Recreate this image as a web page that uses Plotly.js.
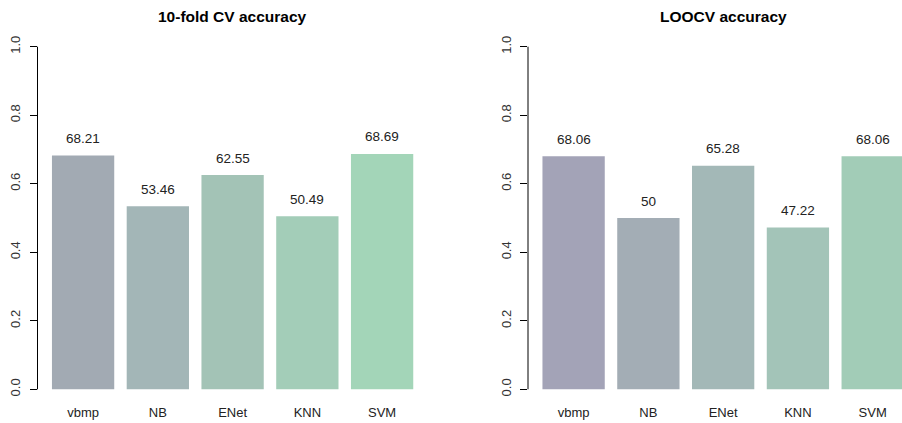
<!DOCTYPE html>
<html>
<head>
<meta charset="utf-8">
<script src="https://cdn.plot.ly/plotly-3.0.1.min.js"></script>
<style>html,body{margin:0;padding:0;background:#fff;}#chart{width:902px;height:423px;}</style>
</head>
<body>
<div id="chart"></div>
<script>
const methods = ["vbmp", "NB", "ENet", "KNN", "SVM"];
const cv10 = [68.21, 53.46, 62.55, 50.49, 68.69];
const loocv = [68.06, 50, 65.28, 47.22, 68.06];
const cv10Labels = ["68.21", "53.46", "62.55", "50.49", "68.69"];
const loocvLabels = ["68.06", "50", "65.28", "47.22", "68.06"];
const colorsLeft = ["#a2aab3", "#a3b6b7", "#a3c3b6", "#a3cdb8", "#a3d5b8"];
const colorsRight = ["#a3a3b7", "#a3adb5", "#a3b8b7", "#a3c4b8", "#a2ccb7"];
const yTicks = [0, 0.2, 0.4, 0.6, 0.8, 1.0];
const yTickText = ["0.0", "0.2", "0.4", "0.6", "0.8", "1.0"];

const font = "Liberation Sans, Arial, sans-serif";
const toFrac = v => v.map(d => d / 100);

const traces = [
  {type: "bar", x: methods, y: toFrac(cv10), marker: {color: colorsLeft, line: {width: 0}},
   xaxis: "x", yaxis: "y", hoverinfo: "none", showlegend: false},
  {type: "bar", x: methods, y: toFrac(loocv), marker: {color: colorsRight, line: {width: 0}},
   xaxis: "x2", yaxis: "y2", hoverinfo: "none", showlegend: false}
];

function valueAnns(vals, labels, xr, yr) {
  return vals.map((v, i) => ({
    x: methods[i], y: v / 100, xref: xr, yref: yr, text: labels[i],
    showarrow: false, yanchor: "middle", xanchor: "center", yshift: 17,
    font: {family: font, size: 13.5, color: "#222"}
  }));
}

const yaxisBase = {
  range: [-0.04, 1.04], tickvals: yTicks, ticktext: yTickText, tickangle: -90,
  ticks: "outside", ticklen: 7, tickcolor: "#000", tickwidth: 1,
  showgrid: false, zeroline: false, showline: false, fixedrange: true,
  ticklabelstandoff: 4,
  tickfont: {family: font, size: 13, color: "#333"}
};
const xaxisBase = {
  type: "category", showgrid: false, zeroline: false, showline: false, ticks: "",
  tickfont: {family: font, size: 13, color: "#222"}, fixedrange: true
};

const layout = {
  width: 902, height: 423,
  margin: {l: 0, r: 0, t: 33, b: 20, pad: 0},
  paper_bgcolor: "#fff", plot_bgcolor: "#fff",
  bargap: 0.1667,
  xaxis: Object.assign({}, xaxisBase, {domain: [37.5/902, 427.7/902], range: [-0.61, 4.61], anchor: "y"}),
  yaxis: Object.assign({}, yaxisBase, {anchor: "x"}),
  xaxis2: Object.assign({}, xaxisBase, {domain: [528/902, 1], range: [-0.61, 4.392], anchor: "y2"}),
  yaxis2: Object.assign({}, yaxisBase, {anchor: "x2"}),
  shapes: [
    {type: "line", xref: "x domain", yref: "y", x0: 0, x1: 0, y0: 0, y1: 1, line: {color: "#000", width: 1}},
    {type: "line", xref: "x2 domain", yref: "y2", x0: 0, x1: 0, y0: 0, y1: 1, line: {color: "#000", width: 1}}
  ],
  annotations: [
    {text: "<b>10-fold CV accuracy</b>", xref: "paper", yref: "paper", x: 232.6/902, y: 1, yshift: 17,
     xanchor: "center", yanchor: "middle", showarrow: false, font: {family: font, size: 15.5, color: "#000"}},
    {text: "<b>LOOCV accuracy</b>", xref: "paper", yref: "paper", x: 723/902, y: 1, yshift: 17,
     xanchor: "center", yanchor: "middle", showarrow: false, font: {family: font, size: 15.5, color: "#000"}}
  ].concat(valueAnns(cv10, cv10Labels, "x", "y"), valueAnns(loocv, loocvLabels, "x2", "y2"))
};

Plotly.newPlot("chart", traces, layout, {displayModeBar: false, staticPlot: true});
</script>
</body>
</html>
